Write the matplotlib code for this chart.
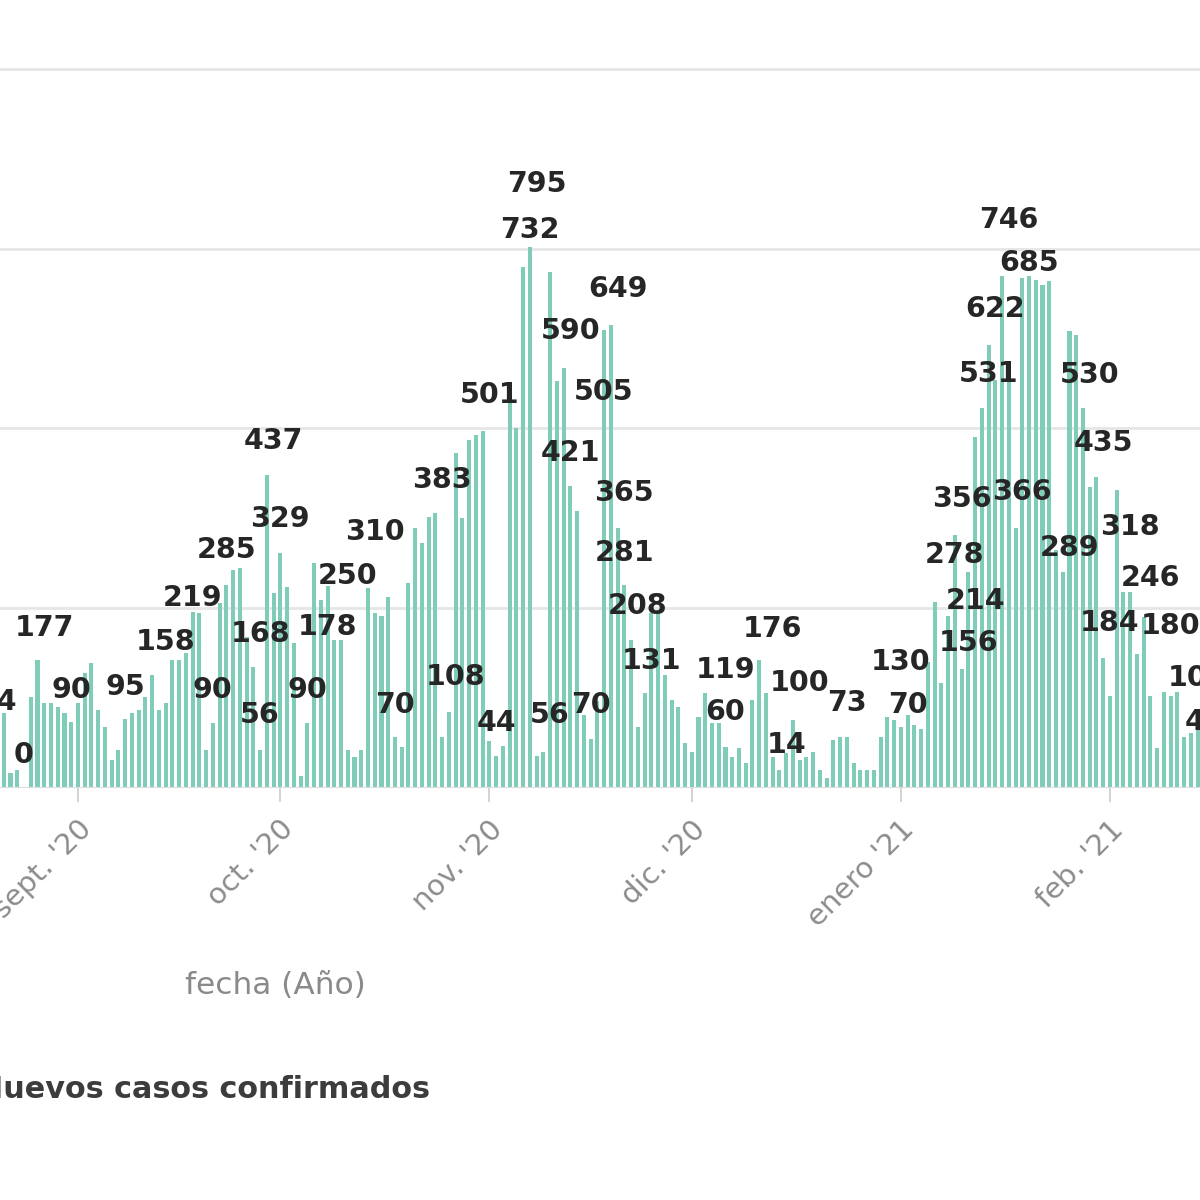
import pandas as pd
import matplotlib.pyplot as plt

# nuevos casos diarios, desde el 20 de agosto 2020
casos = [
    74, 103, 19, 24, 0, 125, 177, 117, 117, 111, 103, 90,
    117, 159, 173, 107, 84, 38, 52, 95, 103, 107, 125, 156, 107, 117, 177,
    177, 186, 244, 242, 52, 89, 256, 281, 302, 305, 209, 167, 52, 435, 270,
    326, 279, 200, 15, 89, 312, 260, 280, 205, 205, 52, 42, 52, 277, 242,
    238, 265, 70, 56, 284, 361, 340, 376, 382, 70, 104, 465, 375, 483, 491, 496,
    64, 43, 57, 541, 500, 725, 752, 43, 49, 717, 566, 584, 420, 384, 100,
    67, 120, 636, 643, 361, 281, 205, 84, 131, 242, 247, 156, 121, 111, 61,
    49, 97, 131, 89, 89, 56, 42, 54, 33, 121, 177, 131, 42, 24, 47, 93,
    38, 42, 49, 24, 13, 65, 70, 70, 33, 24, 24, 24, 70, 97, 93,
    84, 100, 86, 81, 174, 258, 145, 238, 351, 164, 300, 487, 528, 616, 567,
    712, 580, 361, 709, 712, 706, 700, 705, 330, 300, 635, 630, 528, 418, 432, 180,
    127, 414, 272, 272, 185, 237, 127, 54, 132, 127, 132, 70, 75, 81,
]
fechas = pd.date_range('2020-08-20', periods=len(casos), freq='D')

# etiquetas de datos que se ven en el grafico
etiqueta_fecha = [
    '2020-08-20', '2020-08-24', '2020-08-27', '2020-08-31', '2020-09-08',
    '2020-09-14', '2020-09-18', '2020-09-21', '2020-09-23', '2020-09-28',
    '2020-09-28', '2020-09-30', '2020-10-01', '2020-10-05', '2020-10-08',
    '2020-10-11', '2020-10-15', '2020-10-18', '2020-10-25', '2020-10-27',
    '2020-11-01', '2020-11-02', '2020-11-07', '2020-11-08', '2020-11-10',
    '2020-11-13', '2020-11-13', '2020-11-16', '2020-11-18', '2020-11-20',
    '2020-11-21', '2020-11-21', '2020-11-23', '2020-11-25', '2020-12-06',
    '2020-12-06', '2020-12-13', '2020-12-15', '2020-12-17', '2020-12-24',
    '2021-01-01', '2021-01-02', '2021-01-09', '2021-01-10', '2021-01-11',
    '2021-01-12', '2021-01-14', '2021-01-15', '2021-01-17', '2021-01-19',
    '2021-01-20', '2021-01-26', '2021-01-29', '2021-01-31', '2021-02-01',
    '2021-02-04', '2021-02-07', '2021-02-10', '2021-02-14', '2021-02-15',
]
etiqueta_valor = [
    74, 0, 177, 90, 95,
    158, 219, 90, 285, 168,
    56, 437, 329, 90, 178,
    250, 310, 70, 383, 108,
    501, 44, 732, 795, 56,
    590, 421, 70, 505, 649,
    365, 281, 208, 131, 119,
    60, 176, 14, 100, 73,
    130, 70, 278, 356, 156,
    214, 531, 622, 746, 366,
    685, 289, 530, 435, 184,
    318, 246, 180, 107, 46,
]

meses = ['2020-09-01', '2020-10-01', '2020-11-01', '2020-12-01',
         '2021-01-01', '2021-02-01', '2021-03-01']
meses_txt = ["sept. '20", "oct. '20", "nov. '20", "dic. '20",
             "enero '21", "feb. '21", "marzo '21"]

plt.rcParams['font.family'] = ['DejaVu Sans']

fig = plt.figure(figsize=(12, 12), dpi=100)
ax = fig.add_axes([0, 413 / 1200, 1, 725 / 1200])

ax.bar(fechas, casos, width=0.6, color='#7fcdb9', zorder=2)

ax.set_ylim(0, 1010)
ax.set_yticks([250, 500, 750, 1000])
ax.yaxis.grid(True, color='#e6e6e6', linewidth=2)
ax.set_axisbelow(True)
ax.tick_params(axis='y', left=False, labelleft=False)

inicio = pd.Timestamp('2020-09-01')
ax.set_xlim(inicio - pd.Timedelta(days=11.56), inicio + pd.Timedelta(days=166.35))
ax.set_xticks(pd.to_datetime(meses[:-1]))
ax.tick_params(axis='x', length=11, width=1.2, color='#cccccc', labelbottom=False)

# etiquetas de meses giradas (la de marzo queda casi fuera del recorte)
for m, txt in zip(meses, meses_txt):
    ax.annotate(txt, (pd.Timestamp(m), 0), xytext=(9, -38), textcoords='offset pixels',
                rotation=45, ha='right', va='center', rotation_mode='anchor',
                fontsize=21, color='#8c8c8c', annotation_clip=False)

for s in ['top', 'left', 'right']:
    ax.spines[s].set_visible(False)
ax.spines['bottom'].set_color('#dddddd')

for f, v in zip(etiqueta_fecha, etiqueta_valor):
    ax.annotate(str(v), (pd.Timestamp(f), v), xytext=(0, 32), textcoords='offset pixels',
                ha='center', va='center', fontsize=20.5, fontweight='bold', color='#262626',
                annotation_clip=False, zorder=5)

fig.text(275 / 1200, 1 - 985 / 1200, 'fecha (Año)', ha='center', va='center',
         fontsize=22.5, color='#8a8a8a')
fig.text(430 / 1200, 1 - 1090 / 1200, 'Nuevos casos confirmados', ha='right', va='center',
         fontsize=21.8, fontweight='bold', color='#3c3c3c')

fig.savefig('out.png', dpi=100)
